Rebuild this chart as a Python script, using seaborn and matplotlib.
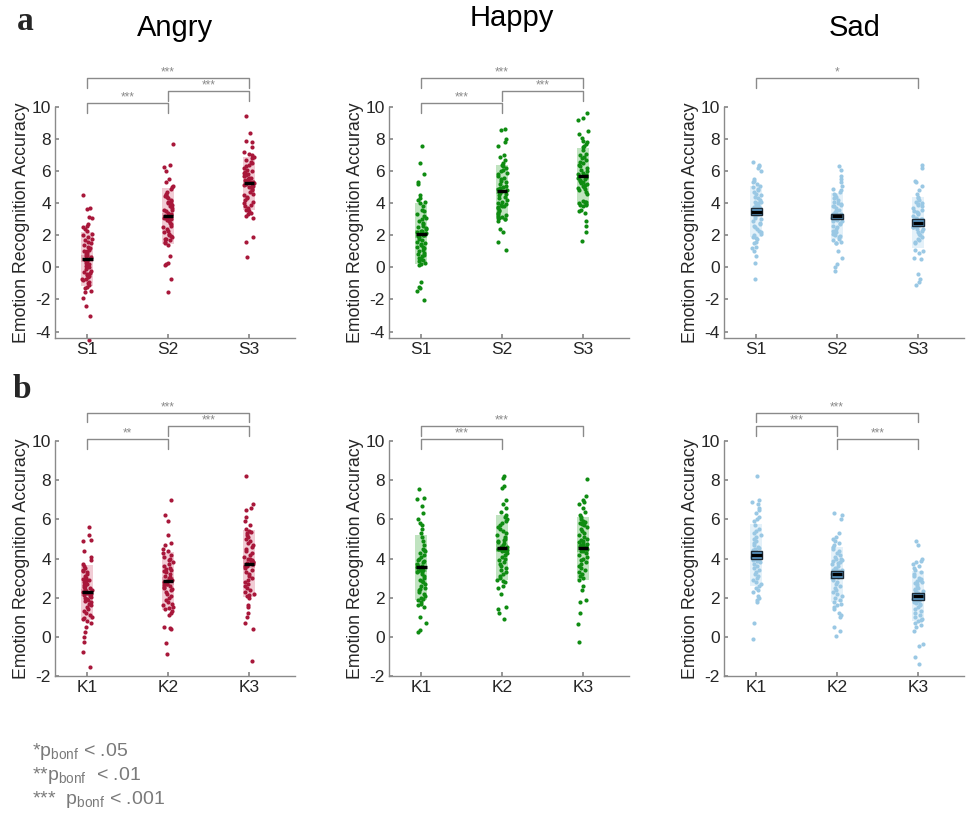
import numpy as np
import pandas as pd
import seaborn as sns
import matplotlib.pyplot as plt

sns.set_theme(style="ticks")
plt.rcParams['font.family'] = ['Liberation Sans', 'DejaVu Sans']
plt.rcParams['mathtext.fontset'] = 'custom'
plt.rcParams['mathtext.rm'] = 'Liberation Sans'
plt.rcParams['mathtext.it'] = 'Liberation Sans'
plt.rcParams['axes.unicode_minus'] = False

# ---- data ----
angry_s1 = [4.5, 3.7, 3.65, 3.15, 3.1, 2.7, 2.6, 2.5, 2.4, 2.3,
            -4.5, -3.0, -2.4, -1.9, -1.55, -1.45, -1.3, -1.2,
            2.1, 2.0, 1.9, 1.8, 1.7, 1.6, 1.5, 1.4, 1.3, 1.2,
            1.1, 1.05, 1.0, 0.9, 0.85, 0.8, 0.7, 0.65, 0.6, 0.55,
            0.5, 0.45, 0.4, 0.3, 0.2, 0.1, 0.05, 0.0, -0.1, -0.2,
            -0.3, -0.35, -0.4, -0.5, -0.55, -0.6, -0.7, -0.75, -0.8, -0.9,
            -1.0, -1.1]
angry_s2 = [7.7, 6.4, 6.25, 6.0, 5.5, 5.3, 5.1, 5.0, 4.9,
            -1.55, -0.7, 0.15, 0.2, 0.3, 0.7, 1.4, 1.5,
            4.7, 4.6, 4.5, 4.45, 4.4, 4.3, 4.2, 4.15, 4.1, 4.0,
            3.95, 3.9, 3.85, 3.8, 3.7, 3.6, 3.55, 3.5, 3.4, 3.3,
            3.25, 3.2, 3.15, 3.1, 3.05, 3.0, 2.95, 2.9, 2.8, 2.7,
            2.6, 2.5, 2.4, 2.3, 2.2, 2.1, 2.0, 1.95, 1.9, 1.8,
            1.75, 1.7, 1.6]
angry_s3 = [9.45, 8.4, 7.9, 7.8, 7.5, 7.2, 7.1, 7.0, 6.9,
            0.65, 1.6, 1.9, 3.1, 3.2, 3.3, 3.4,
            6.8, 6.7, 6.6, 6.5, 6.4, 6.3, 6.2, 6.1, 6.0, 5.95,
            5.9, 5.85, 5.8, 5.75, 5.7, 5.6, 5.55, 5.5, 5.45, 5.4,
            5.35, 5.3, 5.25, 5.2, 5.15, 5.1, 5.05, 5.0, 4.9, 4.8,
            4.7, 4.6, 4.5, 4.4, 4.3, 4.2, 4.1, 4.0, 3.9, 3.8,
            3.7, 3.6, 3.55, 3.5]

happy_s1 = [7.6, 6.5, 5.8, 5.3, 5.2, 4.5, 4.3, 4.2, 4.1,
            -2.05, -1.5, -1.3, -1.2, -0.9, 0.15, 0.2, 0.3,
            4.0, 3.8, 3.6, 3.5, 3.3, 3.2, 3.1, 3.0, 2.9, 2.8,
            2.7, 2.6, 2.5, 2.45, 2.4, 2.3, 2.25, 2.2, 2.15, 2.1,
            2.05, 2.0, 1.95, 1.9, 1.8, 1.7, 1.6, 1.5, 1.45, 1.4,
            1.3, 1.25, 1.2, 1.1, 1.0, 0.9, 0.85, 0.8, 0.7, 0.6,
            0.5, 0.45, 0.4]
happy_s2 = [8.6, 8.55, 8.0, 7.85, 7.6, 7.0, 6.9, 6.7, 6.5, 6.4,
            1.1, 1.6, 2.2, 2.4, 2.9, 3.0,
            6.3, 6.2, 6.1, 6.0, 5.9, 5.8, 5.7, 5.6, 5.5, 5.4,
            5.3, 5.2, 5.1, 5.0, 4.95, 4.9, 4.85, 4.8, 4.75, 4.7,
            4.65, 4.6, 4.5, 4.4, 4.3, 4.2, 4.1, 4.0, 3.95, 3.9,
            3.85, 3.8, 3.75, 3.7, 3.6, 3.5, 3.4, 3.3, 3.25, 3.2,
            3.15, 3.1, 3.1, 3.05]
happy_s3 = [9.6, 9.3, 9.2, 8.5, 8.3, 8.1, 7.9, 7.8, 7.7, 7.6,
            1.65, 2.2, 2.6, 2.9, 3.4, 3.5, 3.6,
            7.5, 7.3, 7.1, 7.0, 6.9, 6.8, 6.7, 6.6, 6.5, 6.4,
            6.3, 6.2, 6.1, 6.0, 5.9, 5.8, 5.75, 5.7, 5.65, 5.6,
            5.5, 5.4, 5.3, 5.2, 5.1, 5.0, 4.9, 4.8, 4.7, 4.6,
            5.45, 5.35, 5.25, 5.15, 4.95, 4.15, 4.1, 4.05, 4.0, 3.95,
            3.9, 3.9, 3.85]

sad_s1 = [6.6, 6.4, 6.3, 6.2, 6.0, 5.5, 5.4, 5.3, 5.2,
          -0.75, 0.3, 0.7, 1.0, 1.2, 1.3, 1.5, 1.6,
          5.1, 5.0, 4.9, 4.8, 4.7, 4.6, 4.5, 4.4, 4.3, 4.2,
          4.1, 4.05, 4.0, 3.95, 3.9, 3.85, 3.8, 3.75, 3.7, 3.6,
          3.55, 3.5, 3.45, 3.4, 3.3, 3.2, 3.1, 3.0, 2.9, 2.8,
          2.7, 2.6, 2.5, 2.4, 2.3, 2.2, 2.1, 2.0, 1.9, 1.85,
          1.8, 3.35, 3.65]
sad_s2 = [6.3, 6.1, 5.7, 5.5, 5.3, 5.1, 4.9, 4.8,
          -0.2, 0.0, 0.2, 0.6, 1.0, 1.5, 1.55, 1.6,
          4.7, 4.6, 4.5, 4.4, 4.3, 4.2, 4.1, 4.0, 3.95, 3.9,
          3.85, 3.8, 3.7, 3.6, 3.5, 3.45, 3.4, 3.35, 3.3, 3.25,
          3.2, 3.15, 3.1, 3.05, 3.0, 2.95, 2.9, 2.8, 2.7, 2.6,
          2.5, 2.4, 2.3, 2.2, 2.1, 2.0, 1.95, 1.9, 1.8, 1.7,
          3.2, 3.1, 2.9, 3.3]
sad_s3 = [6.4, 6.2, 5.4, 5.3, 5.1, 4.8, 4.6, 4.4,
          -1.1, -0.9, -0.7, -0.4, 0.55, 0.6, 0.9, 1.0, 1.1,
          4.3, 4.2, 4.1, 4.0, 3.95, 3.9, 3.8, 3.7, 3.6, 3.5,
          3.45, 3.4, 3.3, 3.2, 3.1, 3.05, 3.0, 2.95, 2.9, 2.85,
          2.8, 2.75, 2.7, 2.65, 2.6, 2.5, 2.4, 2.3, 2.2, 2.1,
          2.0, 1.9, 1.8, 1.7, 1.6, 1.5, 2.65, 2.6, 2.5, 2.4,
          2.8, 2.9, 3.0]

angry_k1 = [5.6, 5.2, 4.95, 4.9, 4.4, 4.1, 3.9, 3.7,
            -1.55, -0.8, -0.25, 0.0, 0.25, 0.5, 0.7, 0.8,
            3.6, 3.5, 3.4, 3.35, 3.3, 3.2, 3.1, 3.0, 2.95, 2.9,
            2.85, 2.8, 2.7, 2.65, 2.6, 2.55, 2.5, 2.45, 2.4, 2.35,
            2.3, 2.25, 2.2, 2.2, 2.15, 2.1, 2.05, 2.0, 1.95, 1.9,
            1.85, 1.8, 1.7, 1.6, 1.5, 1.4, 1.3, 1.2, 1.1, 1.0,
            0.95, 0.9, 2.3, 2.25]
angry_k2 = [7.0, 6.2, 5.9, 5.2, 4.8, 4.7, 4.5, 4.4,
            -0.9, -0.3, 0.4, 0.45, 0.5, 1.1, 1.2, 1.3,
            4.3, 4.2, 4.1, 4.0, 3.9, 3.8, 3.7, 3.6, 3.5, 3.45,
            3.4, 3.35, 3.3, 3.2, 3.1, 3.05, 3.0, 2.95, 2.9, 2.85,
            2.8, 2.75, 2.7, 2.65, 2.6, 2.55, 2.5, 2.45, 2.4, 2.3,
            2.2, 2.1, 2.0, 1.9, 1.8, 1.7, 1.6, 1.5, 1.45, 1.4,
            2.9, 2.8, 2.7, 3.0]
angry_k3 = [8.2, 6.8, 6.6, 6.5, 6.1, 5.9, 5.7, 5.5, 5.4,
            -1.25, 0.4, 0.7, 1.0, 1.2, 1.5, 1.6, 2.0,
            5.35, 5.3, 5.2, 5.1, 5.0, 4.9, 4.8, 4.7, 4.6, 4.5,
            4.4, 4.3, 4.2, 4.1, 4.0, 3.95, 3.9, 3.85, 3.8, 3.75,
            3.7, 3.65, 3.6, 3.5, 3.4, 3.3, 3.2, 3.1, 3.0, 2.9,
            2.8, 2.7, 2.6, 2.5, 2.4, 2.3, 2.2, 2.15, 2.1, 3.7,
            3.6, 3.75, 3.8]

happy_k1 = [7.55, 7.1, 7.05, 6.7, 6.3, 6.0, 5.8, 5.7, 5.5,
            0.25, 0.35, 0.7, 1.0, 1.5, 1.6, 1.7,
            5.3, 5.1, 4.9, 4.7, 4.5, 4.45, 4.4, 4.3, 4.2, 4.1,
            4.0, 3.9, 3.85, 3.8, 3.7, 3.6, 3.55, 3.5, 3.45, 3.4,
            3.35, 3.3, 3.2, 3.1, 3.0, 2.9, 2.85, 2.8, 2.7, 2.6,
            2.5, 2.45, 2.4, 2.3, 2.2, 2.1, 2.0, 1.95, 1.9, 1.8,
            3.5, 3.4, 3.6, 3.3]
happy_k2 = [8.2, 8.1, 7.7, 7.6, 7.0, 6.8, 6.6, 6.4,
            0.9, 1.2, 1.4, 1.5, 2.2, 2.5, 2.6,
            6.2, 6.1, 6.0, 5.9, 5.8, 5.7, 5.6, 5.5, 5.4, 5.3,
            5.2, 5.1, 5.0, 4.95, 4.9, 4.85, 4.8, 4.7, 4.6, 4.55,
            4.5, 4.45, 4.4, 4.3, 4.2, 4.1, 4.0, 3.9, 3.8, 3.7,
            3.6, 3.5, 3.4, 3.3, 3.2, 3.1, 3.0, 2.9, 2.85, 2.8,
            4.5, 4.4, 4.6, 4.5]
happy_k3 = [8.05, 7.2, 7.0, 6.9, 6.8, 6.6, 6.4, 6.2,
            -0.25, 0.65, 1.2, 1.8, 1.9, 2.4, 2.6,
            6.1, 6.0, 5.9, 5.85, 5.8, 5.75, 5.7, 5.6, 5.5, 5.4,
            5.3, 5.2, 5.1, 5.0, 4.95, 4.9, 4.85, 4.8, 4.75, 4.7,
            4.65, 4.6, 4.55, 4.5, 4.45, 4.4, 4.3, 4.2, 4.1, 4.0,
            3.9, 3.8, 3.7, 3.6, 3.5, 3.4, 3.3, 3.2, 3.1, 3.0,
            2.9, 4.6, 4.5, 4.7, 4.4]

sad_k1 = [8.2, 7.0, 6.9, 6.8, 6.6, 6.5, 6.3, 6.1, 6.0,
          -0.1, 0.7, 1.8, 1.9, 2.0, 2.1,
          5.9, 5.7, 5.5, 5.4, 5.3, 5.2, 5.1, 5.0, 4.9, 4.8,
          4.7, 4.6, 4.55, 4.5, 4.45, 4.4, 4.35, 4.3, 4.25, 4.2,
          4.15, 4.1, 4.05, 4.0, 3.95, 3.9, 3.85, 3.8, 3.7, 3.6,
          3.5, 3.4, 3.3, 3.2, 3.1, 3.0, 2.9, 2.8, 2.7, 2.6,
          2.5, 2.4, 2.3, 4.3, 4.2]
sad_k2 = [6.3, 6.2, 6.0, 5.3, 5.1, 5.0, 4.9, 4.8,
          0.05, 0.3, 0.5, 1.0, 1.1, 1.2, 1.4,
          4.7, 4.6, 4.5, 4.4, 4.3, 4.2, 4.1, 4.0, 3.95, 3.9,
          3.85, 3.8, 3.75, 3.7, 3.6, 3.5, 3.45, 3.4, 3.35, 3.3,
          3.25, 3.2, 3.15, 3.1, 3.05, 3.0, 2.9, 2.8, 2.7, 2.6,
          2.5, 2.4, 2.3, 2.2, 2.1, 2.0, 1.9, 1.8, 1.7, 1.6,
          1.5, 3.2, 3.3, 3.1, 3.4]
sad_k3 = [4.9, 4.7, 4.0, 3.85, 3.8, 3.7, 3.6,
          -1.4, -1.05, -0.45, -0.35, 0.3, 0.5, 0.6, 0.7,
          3.5, 3.4, 3.3, 3.2, 3.1, 3.0, 2.95, 2.9, 2.85, 2.8,
          2.75, 2.7, 2.6, 2.5, 2.45, 2.4, 2.35, 2.3, 2.25, 2.2,
          2.15, 2.1, 2.05, 2.0, 1.95, 1.9, 1.85, 1.8, 1.75, 1.7,
          1.6, 1.5, 1.4, 1.3, 1.2, 1.1, 1.0, 0.9, 0.85, 0.8,
          2.0, 2.1, 1.9, 2.05, 1.95]

emotions = ["Angry", "Happy", "Sad"]
s_labels = ["S1", "S2", "S3"]
k_labels = ["K1", "K2", "K3"]

# significance: (group i, group j, stars, bracket level)
sig_a = {
    "Angry": [(0, 1, "***", 0), (1, 2, "***", 1), (0, 2, "***", 2)],
    "Happy": [(0, 1, "***", 0), (1, 2, "***", 1), (0, 2, "***", 2)],
    "Sad": [(0, 2, "*", 2)],
}
sig_b = {
    "Angry": [(0, 1, "**", 0), (1, 2, "***", 1), (0, 2, "***", 2)],
    "Happy": [(0, 1, "***", 0), (0, 2, "***", 1)],
    "Sad": [(1, 2, "***", 0), (0, 1, "***", 1), (0, 2, "***", 2)],
}

row_a = {"Angry": [angry_s1, angry_s2, angry_s3],
         "Happy": [happy_s1, happy_s2, happy_s3],
         "Sad": [sad_s1, sad_s2, sad_s3]}
row_b = {"Angry": [angry_k1, angry_k2, angry_k3],
         "Happy": [happy_k1, happy_k2, happy_k3],
         "Sad": [sad_k1, sad_k2, sad_k3]}

# styling
point_col = {"Angry": "#a8173a", "Happy": "#0f8c12", "Sad": "#9ac8e4"}
band_col = {"Angry": "#f1ccd5", "Happy": "#c0e3c0", "Sad": "#e4f1f9"}
sem_col = {"Angry": "#e3a3b2", "Happy": "#8fcf8f", "Sad": "#5d9ccb"}
gray = "#8a8a8a"
text_col = "#262626"

fig = plt.figure(figsize=(9.7, 8.17), dpi=100)
lefts = [0.0567, 0.401, 0.7464]
rows = [
    (row_a, s_labels, sig_a, 0.5863, 0.2827, (-4.4, 10), np.arange(-4, 11, 2), [10.25, 11.0, 11.8]),
    (row_b, k_labels, sig_b, 0.1726, 0.2876, (-2, 10), np.arange(-2, 11, 2), [10.1, 10.75, 11.45]),
]

np.random.seed(7)
for data, labels, sig, bottom, height, ylim, yticks, levels in rows:
    for left, emo in zip(lefts, emotions):
        ax = fig.add_axes([left, bottom, 0.2474, height])
        groups = data[emo]
        df = pd.DataFrame({
            "group": np.concatenate([[lab] * len(g) for lab, g in zip(labels, groups)]),
            "value": np.concatenate(groups),
        })
        means = np.array([np.mean(g) for g in groups])
        sds = np.array([np.std(g, ddof=1) for g in groups])
        sems = sds / np.sqrt([len(g) for g in groups])
        pos = np.arange(3)

        ax.bar(pos, 2 * sds, bottom=means - sds, width=0.15,
               color=band_col[emo], edgecolor="none", zorder=1)
        if emo != "Sad":
            ax.bar(pos, 2 * sems, bottom=means - sems, width=0.15,
                   color=sem_col[emo], edgecolor="none", zorder=1.5)
        sns.stripplot(data=df, x="group", y="value", order=labels, ax=ax,
                      color=point_col[emo], size=3.0, jitter=0.06,
                      linewidth=0, zorder=2)
        for coll in ax.collections:
            coll.set_clip_on(False)
        if emo == "Sad":
            ax.bar(pos, 2 * sems, bottom=means - sems, width=0.14,
                   color=sem_col[emo], edgecolor="#1e2c38", linewidth=1.0,
                   zorder=3)
        ax.hlines(means, pos - 0.065, pos + 0.065, color="black", lw=2.4, zorder=4)

        ax.set_xlim(-0.4, 2.57)
        ax.set_ylim(*ylim)
        ax.set_yticks(yticks)
        ax.set_xlabel("")
        ax.set_ylabel("Emotion Recognition Accuracy", fontsize=12.8, color=text_col, labelpad=1)
        ax.tick_params(axis="both", labelsize=12.5, colors=text_col, direction="in",
                       length=3, color=gray, pad=3)
        for sp in ["top", "right"]:
            ax.spines[sp].set_visible(False)
        for sp in ["left", "bottom"]:
            ax.spines[sp].set_color(gray)
            ax.spines[sp].set_linewidth(1.0)

        for i, j, stars, lev in sig[emo]:
            yl = levels[lev]
            drop = 0.6 if ylim[0] < -3 else 0.5
            ax.plot([i, i, j, j], [yl - drop, yl, yl, yl - drop], color=gray,
                    lw=1.0, clip_on=False, zorder=5)
            ax.text((i + j) / 2, yl - 0.02, stars, ha="center", va="bottom",
                    fontsize=8.5, color=gray, clip_on=False)

# titles and panel letters
fig.text(175 / 970, 1 - 28 / 817, "Angry", ha="center", va="center", fontsize=21, color="black")
fig.text(512 / 970, 1 - 18 / 817, "Happy", ha="center", va="center", fontsize=21, color="black")
fig.text(855 / 970, 1 - 28 / 817, "Sad", ha="center", va="center", fontsize=21, color="black")
fig.text(25 / 970, 1 - 22 / 817, "a", ha="center", va="center", fontsize=24,
         fontweight="bold", family="Liberation Serif")
fig.text(22 / 970, 1 - 390 / 817, "b", ha="center", va="center", fontsize=24,
         fontweight="bold", family="Liberation Serif")

legend_lines = [r"*p$_{\mathrm{bonf}}$ < .05",
                r"**p$_{\mathrm{bonf}}$  < .01",
                r"***  p$_{\mathrm{bonf}}$ < .001"]
for k, line in enumerate(legend_lines):
    fig.text(32 / 970, 1 - (752 + 24 * k) / 817, line, ha="left", va="center",
             fontsize=14, color="#7a7a7a")

fig.savefig("out.png", dpi=100)
